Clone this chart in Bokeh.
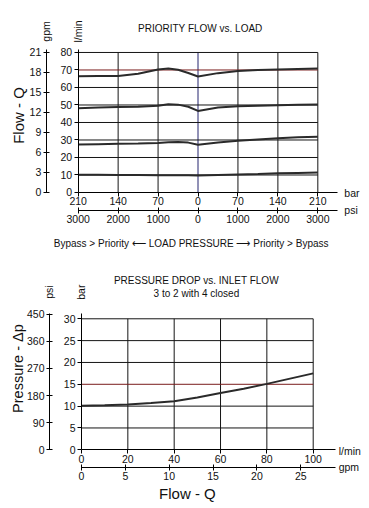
import math
from bokeh.plotting import figure
from bokeh.models import Range1d, LinearAxis, FixedTicker, Label
from bokeh.layouts import column
from bokeh.embed import file_html
from bokeh.resources import INLINE

FONT = "Liberation Sans"

# ---------------- top chart data: PRIORITY FLOW vs. LOAD ----------------
load_bar = [-210, -175, -140, -105, -70, -52, -35, -17, 0, 35, 70, 105, 140, 175, 210]
flow_70 = [66.4, 66.5, 66.6, 67.8, 70.3, 70.8, 70.1, 68.3, 66.3, 68.2, 69.4, 70.0, 70.3, 70.6, 70.8]
flow_50 = [48.2, 48.6, 48.9, 49.0, 49.5, 50.4, 50.2, 49.0, 46.6, 48.5, 49.3, 49.6, 49.9, 50.1, 50.3]
flow_30 = [27.4, 27.6, 27.8, 28.0, 28.3, 28.7, 28.9, 28.5, 27.3, 28.6, 29.5, 30.3, 31.0, 31.5, 31.9]
flow_10 = [10.1, 10.1, 10.0, 10.0, 9.9, 9.9, 9.9, 9.8, 9.7, 10.0, 10.3, 10.6, 11.0, 11.2, 11.4]

bar_ticks = [-210, -140, -70, 0, 70, 140, 210]
bar_labels = ["210", "140", "70", "0", "70", "140", "210"]
psi_labels = ["3000", "2000", "1000", "0", "1000", "2000", "3000"]
lmin_ticks_top = [0, 10, 20, 30, 40, 50, 60, 70, 80]
gpm_ticks_top = [0, 3, 6, 9, 12, 15, 18, 21]

# ---------------- bottom chart data: PRESSURE DROP vs. INLET FLOW ----------------
inlet_lmin = [0, 10, 20, 30, 40, 50, 60, 70, 80, 90, 100]
dp_bar = [10.1, 10.2, 10.4, 10.7, 11.1, 12.0, 13.0, 14.0, 15.1, 16.3, 17.5]
lmin_ticks_bot = [0, 20, 40, 60, 80, 100]
gpm_ticks_bot = [0, 5, 10, 15, 20, 25]
bar_ticks_bot = [0, 5, 10, 15, 20, 25, 30]
psi_ticks_bot = [0, 90, 180, 270, 360, 450]

GRID = "#151515"
RED = "#7a1c1c"
BLUE = "#24246e"
CURVE = "#2a2a2a"
TXT = "#111111"
TICK_SIZE = "10.5px"


def style_axis(ax, tin, tout, standoff=2, size=TICK_SIZE):
    ax.major_label_text_font = FONT
    ax.major_label_text_font_size = size
    ax.major_label_text_color = TXT
    ax.axis_line_color = "black"
    ax.axis_line_width = 1
    ax.major_tick_line_color = "black"
    ax.minor_tick_line_color = None
    ax.major_tick_in = tin
    ax.major_tick_out = tout
    ax.major_label_standoff = standoff
    return ax


def lbl(p, x, y, text, size="10.5px", angle=0.0, align="center"):
    p.add_layout(Label(x=x, y=y, text=text, text_font=FONT, text_font_size=size,
                       text_align=align, text_baseline="middle", angle=angle,
                       text_color=TXT))


def base_fig(w, h, xr, yr):
    p = figure(frame_width=w, frame_height=h, min_border=0,
               x_range=Range1d(*xr), y_range=Range1d(*yr),
               x_axis_location=None, y_axis_location=None,
               output_backend="svg", toolbar_location=None, tools="")
    p.outline_line_color = None
    p.grid.visible = False
    p.background_fill_color = "white"
    p.border_fill_color = "white"
    return p


# ================= TOP FIGURE =================
# the frame covers the whole canvas; axes sit at fixed data locations
p1 = base_fig(369, 255, (-346.2, 300.6), (-36.0, 109.7))
p1.extra_y_ranges = {"gpm": Range1d(-36.0 * 21 / 80, 109.7 * 21 / 80)}

vx = bar_ticks[1:]
p1.segment(x0=vx, y0=[0] * len(vx), x1=vx, y1=[80] * len(vx),
           line_color=[BLUE if t == 0 else GRID for t in vx], line_width=1)
hy = lmin_ticks_top[1:]
p1.segment(x0=[-210] * len(hy), y0=hy, x1=[210] * len(hy), y1=hy,
           line_color=[RED if v == 70 else GRID for v in hy], line_width=1)

for series in (flow_70, flow_50, flow_30, flow_10):
    p1.line(load_bar, series, line_color=CURVE, line_width=2)

bar_ax = style_axis(LinearAxis(ticker=FixedTicker(ticks=bar_ticks),
                               major_label_overrides=dict(zip(bar_ticks, bar_labels)),
                               fixed_location=0, bounds=(-210, 244)), 0, 4, 1)
p1.add_layout(bar_ax, "below")
psi_ax = style_axis(LinearAxis(ticker=FixedTicker(ticks=bar_ticks),
                               major_label_overrides=dict(zip(bar_ticks, psi_labels)),
                               fixed_location=-10.3, bounds=(-210, 244)), 3, 3, 1)
p1.add_layout(psi_ax, "below")
lmin_ax = style_axis(LinearAxis(ticker=FixedTicker(ticks=lmin_ticks_top),
                                fixed_location=-210, bounds=(0, 81.7)), 0, 4, 2)
p1.add_layout(lmin_ax, "left")
gpm_ax = style_axis(LinearAxis(y_range_name="gpm", ticker=FixedTicker(ticks=gpm_ticks_top),
                               fixed_location=-266, bounds=(0, 21.5)), 3, 3, 2)
p1.add_layout(gpm_ax, "left")

lbl(p1, 4, 93.7, "PRIORITY FLOW vs. LOAD", size="10px")
lbl(p1, -266, 92, "gpm", angle=math.pi / 2)
lbl(p1, -211, 92, "l/min", angle=math.pi / 2)
lbl(p1, -314, 44, "Flow - Q", size="15px", angle=math.pi / 2)
lbl(p1, 256.5, -0.4, "bar", align="left")
lbl(p1, 256.5, -10.0, "psi", align="left")
lbl(p1, -12, -29, "Bypass > Priority \u27f5 LOAD PRESSURE \u27f6 Priority > Bypass",
    size="10px")

# ================= BOTTOM FIGURE =================
p2 = base_fig(369, 253, (-34.96, 124.3), (-13.44, 44.49))
p2.extra_x_ranges = {"gpm": Range1d(-34.96 / 3.785, 124.3 / 3.785)}
p2.extra_y_ranges = {"psi": Range1d(-13.44 * 14.5, 44.49 * 14.5)}

vx2 = lmin_ticks_bot[1:]
p2.segment(x0=vx2, y0=[0] * len(vx2), x1=vx2, y1=[30] * len(vx2), line_color=GRID, line_width=1)
hy2 = bar_ticks_bot[1:]
p2.segment(x0=[0] * len(hy2), y0=hy2, x1=[100] * len(hy2), y1=hy2,
           line_color=[RED if v == 15 else GRID for v in hy2], line_width=1)

p2.line(inlet_lmin, dp_bar, line_color=CURVE, line_width=2)

lx = style_axis(LinearAxis(ticker=FixedTicker(ticks=lmin_ticks_bot),
                           fixed_location=0, bounds=(0, 109.6)), 0, 4, 1)
p2.add_layout(lx, "below")
gx = style_axis(LinearAxis(x_range_name="gpm", ticker=FixedTicker(ticks=gpm_ticks_bot),
                           fixed_location=-4.12, bounds=(0, 28.96)), 3, 3, 1)
p2.add_layout(gx, "below")
by = style_axis(LinearAxis(ticker=FixedTicker(ticks=bar_ticks_bot),
                           fixed_location=0, bounds=(0, 31.14)), 0, 4, 2)
p2.add_layout(by, "left")
py = style_axis(LinearAxis(y_range_name="psi", ticker=FixedTicker(ticks=psi_ticks_bot),
                           fixed_location=-13.8, bounds=(0, 451.5)), 3, 3, 2)
p2.add_layout(py, "left")

lbl(p2, 49.6, 38.8, "PRESSURE DROP vs. INLET FLOW", size="10px")
lbl(p2, 49.6, 35.8, "3 to 2 with 4 closed", size="10px")
lbl(p2, -14.2, 36.1, "psi", angle=math.pi / 2)
lbl(p2, -0.4, 36.1, "bar", angle=math.pi / 2)
lbl(p2, -27.4, 18.6, "Pressure - \u0394p", size="14.5px", angle=math.pi / 2)
lbl(p2, 111.0, -0.2, "l/min", align="left")
lbl(p2, 111.0, -4.05, "gpm", align="left")
lbl(p2, 45.7, -10, "Flow - Q", size="15px")

layout = column(p1, p2, spacing=0)
open("out.html", "w").write(file_html(layout, INLINE))
